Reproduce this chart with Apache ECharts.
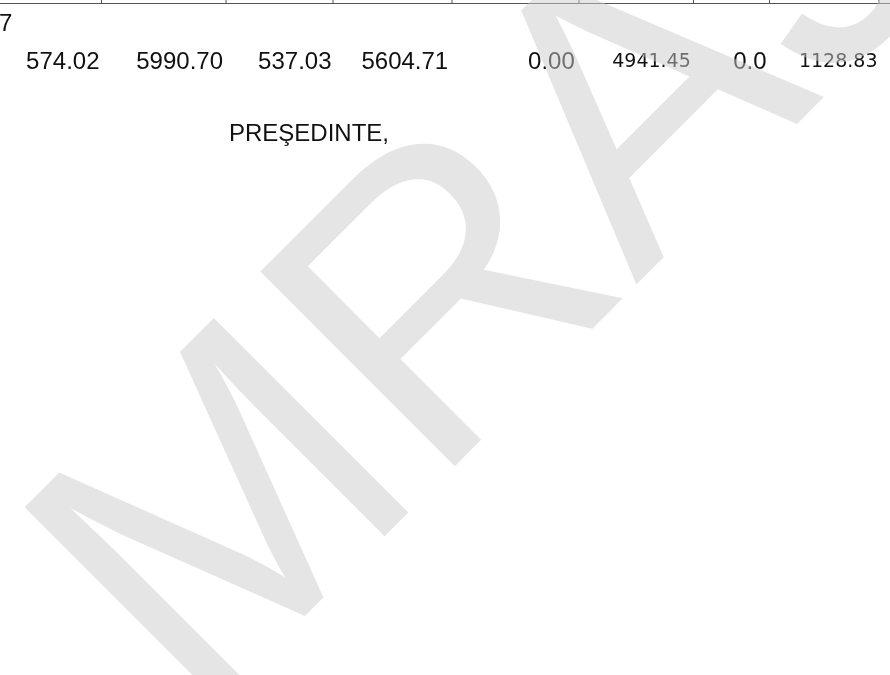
<!DOCTYPE html>
<html><head><meta charset="utf-8">
<script src="https://cdn.jsdelivr.net/npm/echarts@6/dist/echarts.min.js"></script>
<style>html,body{margin:0;padding:0;background:#fff}#c{width:890px;height:675px}</style>
</head><body><div id="c"></div>
<script>
// ---- content ----
const rowLabel = '7';
const rowValues = [574.02, 5990.70, 537.03, 5604.71, 0.00, 4941.45, 0.0, 1128.83];
const rowDecimals = [2, 2, 2, 2, 2, 2, 1, 2];
const signature = 'PREŞEDINTE,';
const watermark = 'MRAJ';

// ---- layout / style ----
const colEdges = [101.5, 226, 333, 452, 579, 693.5, 769.5, 879];
const textRight = [99.5, 223, 331.5, 448.2, 574.8, 690.8, 766.5, 877.5];
const cellFont = ['lib', 'lib', 'lib', 'lib', 'lib', 'dv', 'lib', 'dv'];
const LIB = '24px "Liberation Sans", Arial, sans-serif';
const DV = '19px "DejaVu Sans", sans-serif';
const INK = '#111';
const RULE = '#555';

const elements = [];
// top rule and column ticks
elements.push({type: 'line', shape: {x1: 0, y1: 3.5, x2: 890, y2: 3.5}, style: {stroke: RULE, lineWidth: 1}});
colEdges.forEach(function (x) {
  elements.push({type: 'line', shape: {x1: x, y1: 0, x2: x, y2: 3.5}, style: {stroke: RULE, lineWidth: 1}});
});
// row label
elements.push({type: 'text', x: -1, y: 24, style: {text: rowLabel, font: LIB, fill: INK, align: 'left', verticalAlign: 'middle'}});
// row values
rowValues.forEach(function (v, i) {
  const isDV = cellFont[i] === 'dv';
  elements.push({
    type: 'text', x: textRight[i], y: isDV ? 62 : 62,
    style: {text: v.toFixed(rowDecimals[i]), font: isDV ? DV : LIB, fill: INK, align: 'right', verticalAlign: 'middle'}
  });
});
// signature
elements.push({type: 'text', x: 229, y: 134, style: {text: signature, font: LIB, fill: INK, align: 'left', verticalAlign: 'middle'}});
// watermark (on top, translucent)
elements.push({
  type: 'text', x: 118, y: 647, rotation: Math.PI / 4, z: 100,
  style: {text: watermark, font: '400px "Liberation Sans", Arial, sans-serif', fill: 'rgba(204,204,204,0.5)', align: 'left', verticalAlign: 'middle'}
});

const chart = echarts.init(document.getElementById('c'), null, {renderer: 'canvas'});
chart.setOption({
  backgroundColor: '#ffffff',
  animation: false,
  graphic: {elements: elements}
});
</script>
</body></html>
